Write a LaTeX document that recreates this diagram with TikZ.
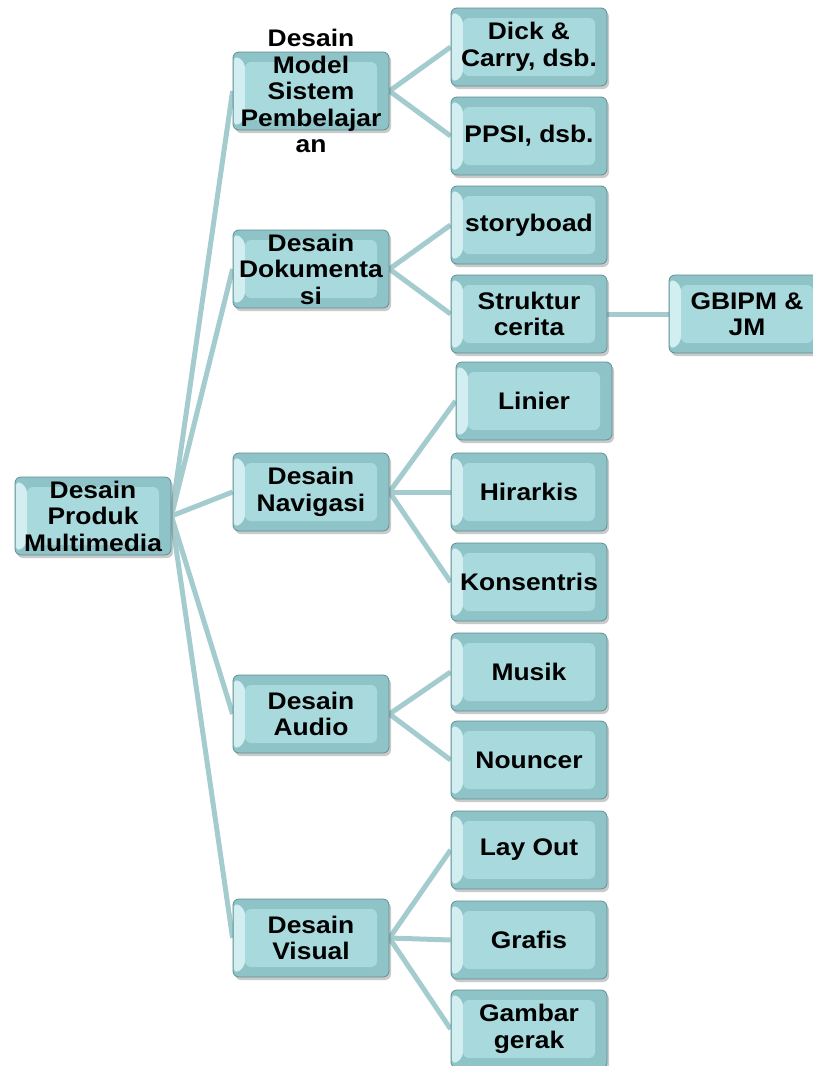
\documentclass[tikz,border=0pt]{standalone}
\usepackage{fontspec}
\setmainfont{Liberation Sans}[FakeStretch=1.1]
\usetikzlibrary{shadows,backgrounds}
\definecolor{outerc}{HTML}{8EC3C8}
\definecolor{innerc}{HTML}{A8D9DD}
\definecolor{lightc}{HTML}{D2EEF0}
\definecolor{edgec}{HTML}{5F8E92}
\definecolor{linkc}{HTML}{A4CCCF}
\tikzset{
  box/.style={rectangle, rounded corners=6pt, draw=edgec, line width=0.8pt,
    fill=outerc, minimum width=156pt, minimum height=78pt, inner sep=0pt,
    drop shadow={shadow xshift=2pt, shadow yshift=-3pt, opacity=0.35, fill=black!60},
    path picture={
      \fill[lightc] ([shift={(1,3)}]path picture bounding box.north west) --
        ([shift={(12,10)}]path picture bounding box.north west) --
        ([shift={(12,-10)}]path picture bounding box.south west) --
        ([shift={(1,-3)}]path picture bounding box.south west) -- cycle;
      \fill[innerc] ([shift={(12,10)}]path picture bounding box.north west)
        rectangle ([shift={(-12,-10)}]path picture bounding box.south east);
    }},
  txt/.style={align=center, inner sep=0pt, font=\bfseries\fontsize{24}{26.5}\selectfont},
  link/.style={draw=linkc, line width=5pt}
}
\newcommand{\bx}[4]{\node[box] (#1) at (#2,#3) {}; \node[txt] (#1-t) at (#1) {#4};}
\begin{document}
\begin{tikzpicture}[x=1pt,y=-1pt]
\useasboundingbox (0,0) rectangle (812,1066);
\bx{root}{93}{516}{Desain\\Produk\\Multimedia}
\bx{m}{311}{91}{Desain\\Model\\Sistem\\Pembelajar\\an}
\bx{d}{311}{269}{Desain\\Dokumenta\\si}
\bx{n}{311}{492}{Desain\\Navigasi}
\bx{a}{311}{714}{Desain\\Audio}
\bx{v}{311}{938}{Desain\\Visual}
\bx{m1}{529}{47}{Dick \&\\Carry, dsb.}
\bx{m2}{529}{136}{PPSI, dsb.}
\bx{d1}{529}{225}{storyboad}
\bx{d2}{529}{314}{Struktur\\cerita}
\bx{g}{747}{314}{GBIPM \&\\JM}
\bx{n1}{534}{401}{Linier}
\bx{n2}{529}{492}{Hirarkis}
\bx{n3}{529}{582}{Konsentris}
\bx{a1}{529}{672}{Musik}
\bx{a2}{529}{760}{Nouncer}
\bx{v1}{529}{850}{Lay Out}
\bx{v2}{529}{940}{Grafis}
\bx{v3}{529}{1029}{Gambar\\gerak}
\begin{scope}[on background layer]
\foreach \c in {m,d,n,a,v} \draw[link] (root.east) -- (\c.west);
\foreach \c in {m1,m2} \draw[link] (m.east) -- (\c.west);
\foreach \c in {d1,d2} \draw[link] (d.east) -- (\c.west);
\foreach \c in {n1,n2,n3} \draw[link] (n.east) -- (\c.west);
\foreach \c in {a1,a2} \draw[link] (a.east) -- (\c.west);
\foreach \c in {v1,v2,v3} \draw[link] (v.east) -- (\c.west);
\draw[link] (d2.east) -- (g.west);
\end{scope}
\end{tikzpicture}
\end{document}
